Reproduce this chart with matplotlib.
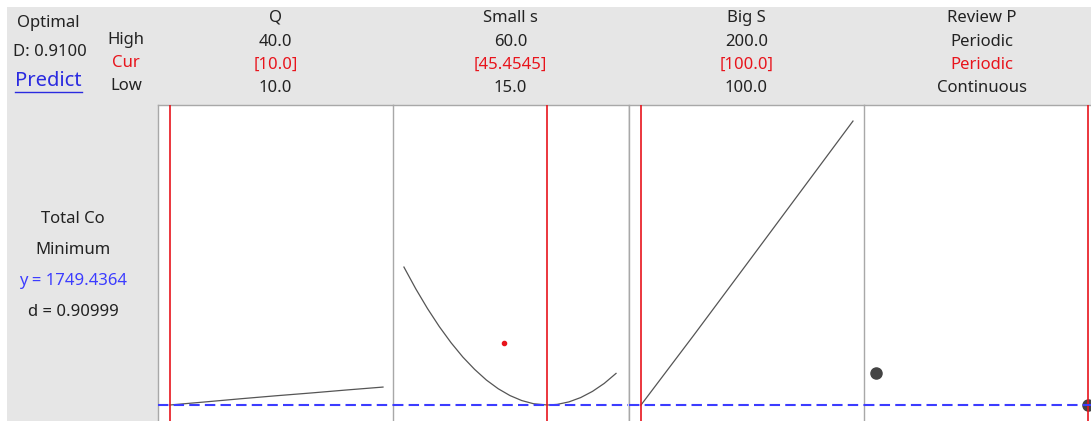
import matplotlib
matplotlib.use("Agg")
import matplotlib.pyplot as plt
from matplotlib.lines import Line2D

plt.rcParams["font.family"] = ["Noto Sans", "DejaVu Sans"]

# ------------------------------------------------------------
# Data
# ------------------------------------------------------------
factor_names = ["Q", "Small s", "Big S", "Review P"]
high_labels = ["40.0", "60.0", "200.0", "Periodic"]
cur_labels = ["[10.0]", "[45.4545]", "[100.0]", "Periodic"]
low_labels = ["10.0", "15.0", "100.0", "Continuous"]

y_opt = 1749.4364

q_x = [10, 15, 20, 25, 30, 35, 40]
q_y = [1749.4, 1768, 1787, 1805, 1822, 1840, 1857]
q_cur = 10.0

s_x = [15, 17.5, 20, 22.5, 25, 27.5, 30, 32.5, 35, 37.5, 40, 42.5,
       45.4545, 47.5, 50, 52.5, 55, 57.5, 60]
s_y = [2577, 2447, 2328, 2220, 2123, 2037, 1963, 1899, 1847, 1806, 1776,
       1757, 1749.4, 1753, 1768, 1794, 1831, 1879, 1939]
s_cur = 45.4545
s_dot_x = [36.3]
s_dot_y = [2121]

bs_x = [100, 125, 150, 175, 200]
bs_y = [1749.4, 2170, 2597, 3025, 3453]
bs_cur = 100.0

rp_x = [0, 1]            # 0 = Continuous, 1 = Periodic
rp_y = [1941, 1749.4]
rp_cur = 1

# ------------------------------------------------------------
# Figure
# ------------------------------------------------------------
W, H = 1091, 421
fig = plt.figure(figsize=(W / 100, H / 100), dpi=100)
fig.patch.set_facecolor("white")


def fx(x):
    return x / W


def fy(y):
    return 1 - y / H


# gray background panel
bg = fig.add_axes([fx(7), 0, 1 - fx(7), fy(7)], zorder=-10)
bg.set_facecolor("#e6e6e6")
bg.set_xticks([])
bg.set_yticks([])
for sp in bg.spines.values():
    sp.set_visible(False)

GRAY = "#555555"
RED = "#e8141c"
BLUE = "#3c3cff"
DARK = "#222222"
FS = 12

# header text on the left
fig.text(fx(48), fy(23), "Optimal", ha="center", va="center", fontsize=FS, color=DARK)
fig.text(fx(50), fy(52), "D: 0.9100", ha="center", va="center", fontsize=FS, color=DARK)
fig.text(fx(48), fy(81), "Predict", ha="center", va="center", fontsize=14.5, color="#2a2ae0")
fig.add_artist(Line2D([fx(15), fx(82)], [fy(92), fy(92)], color="#2a2ae0", lw=1.0,
                      transform=fig.transFigure))
fig.text(fx(126), fy(40), "High", ha="center", va="center", fontsize=FS, color=DARK)
fig.text(fx(126), fy(63), "Cur", ha="center", va="center", fontsize=FS, color=RED)
fig.text(fx(126), fy(86), "Low", ha="center", va="center", fontsize=FS, color=DARK)

fig.text(fx(73), fy(219), "Total Co", ha="center", va="center", fontsize=FS, color=DARK)
fig.text(fx(73), fy(250), "Minimum", ha="center", va="center", fontsize=FS, color=DARK)
fig.text(fx(73), fy(281), "y = %.4f" % y_opt, ha="center", va="center", fontsize=FS, color=BLUE)
fig.text(fx(73), fy(312), "d = 0.90999", ha="center", va="center", fontsize=FS, color=DARK)

# ------------------------------------------------------------
# Panels
# ------------------------------------------------------------
panel_left = [158, 393, 629, 864]
panel_w = 235
top = 105
xlims = [(8.31, 41.41), (12.68, 62.54), (94.34, 205.2), (-0.0566, 1.052)]
ylim = (1653.4, 3549.4)

series = [
    (q_x, q_y, q_cur),
    (s_x, s_y, s_cur),
    (bs_x, bs_y, bs_cur),
    (rp_x, rp_y, rp_cur),
]

for i in range(4):
    ax = fig.add_axes([fx(panel_left[i]), 0, panel_w / W, (H - top) / H])
    ax.set_facecolor("white")
    ax.set_xlim(*xlims[i])
    ax.set_ylim(*ylim)
    ax.set_xticks([])
    ax.set_yticks([])
    for side in ["right", "bottom"]:
        ax.spines[side].set_visible(False)
    for side in ["left", "top"]:
        ax.spines[side].set_color("#a8a8a8")
        ax.spines[side].set_linewidth(1.0)

    xs, ys, cur = series[i]
    if i < 3:
        ax.plot(xs, ys, color=GRAY, lw=0.9, zorder=2)
    else:
        ax.plot(xs, ys, "o", color="#444444", markersize=8, zorder=2)
    ax.axvline(cur, color=RED, lw=1.2, zorder=3)
    ax.axhline(y_opt, color=BLUE, lw=1.5, dashes=(5, 2.5), zorder=4)

    if i == 1:
        ax.plot(s_dot_x, s_dot_y, "o", color=RED, markersize=3, zorder=3)

    cx = panel_left[i] + panel_w / 2
    fig.text(fx(cx), fy(18), factor_names[i], ha="center", va="center", fontsize=FS, color=DARK)
    fig.text(fx(cx), fy(42), high_labels[i], ha="center", va="center", fontsize=FS, color=DARK)
    fig.text(fx(cx), fy(65), cur_labels[i], ha="center", va="center", fontsize=FS, color=RED)
    fig.text(fx(cx), fy(88), low_labels[i], ha="center", va="center", fontsize=FS, color=DARK)

plt.savefig("out.png", dpi=100)
